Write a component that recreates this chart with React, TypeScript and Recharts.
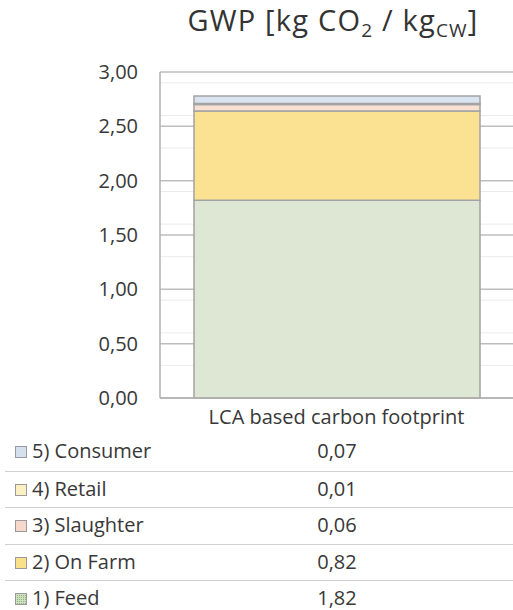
import type { JSX } from "react";
import { BarChart, Bar, XAxis, YAxis, CartesianGrid } from "recharts";

// ─── data ─────────────────────────────────────────────────────────────────────

const categories = ["LCA based carbon footprint"];
const stages = ["1) Feed", "2) On Farm", "3) Slaughter", "4) Retail", "5) Consumer"];
const stageKeys = ["feed", "farm", "slaughter", "retail", "consumer"];
const stageValues = [1.82, 0.82, 0.06, 0.01, 0.07];
const stageColors = ["#dde7d3", "#fbe292", "#f9e0d3", "#fdf1c9", "#dae3f0"];
const legendColors = ["#b9d3a9", "#fbe08a", "#f6d9cc", "#fcefc2", "#d5e0ef"];
const yTicks = [0, 0.5, 1, 1.5, 2, 2.5, 3];
const minorTicks = [
  0.1, 0.2, 0.3, 0.4, 0.6, 0.7, 0.8, 0.9, 1.1, 1.2, 1.3, 1.4, 1.6, 1.7, 1.8, 1.9,
  2.1, 2.2, 2.3, 2.4, 2.6, 2.7, 2.8, 2.9,
];

const FONT = "'Open Sans', Lato, sans-serif";
const TEXT = "#383838";

const fmt = (v: number) => v.toFixed(2).replace(".", ",");

const data = categories.map((name) => {
  const row: Record<string, string | number> = { name };
  stageKeys.forEach((k, i) => (row[k] = stageValues[i]));
  return row;
});

// ─── title ────────────────────────────────────────────────────────────────────

function Title(): JSX.Element {
  return (
    <svg width={513} height={48} style={{ position: "absolute", left: 0, top: 0 }}>
      <text x={333} y={31} textAnchor="middle" fontFamily={FONT} fontSize={29} letterSpacing={1.2} fill="#333">
        GWP [kg CO
        <tspan fontSize={19} dy={6}>2</tspan>
        <tspan dy={-6}> / kg</tspan>
        <tspan fontSize={19} dy={6}>CW</tspan>
        <tspan dy={-6}>]</tspan>
      </text>
    </svg>
  );
}

// ─── legend / data table ──────────────────────────────────────────────────────

function LegendKey({ color, dotted }: { color: string; dotted: boolean }): JSX.Element {
  return (
    <svg width={12} height={12} style={{ position: "absolute", left: 10, top: 12 }}>
      <defs>
        <pattern id="feedDots" width={2} height={2} patternUnits="userSpaceOnUse">
          <rect width={2} height={2} fill="#cfe0c3" />
          <rect width={1} height={1} fill="#8fb57a" />
        </pattern>
      </defs>
      <rect x={0.5} y={0.5} width={11} height={11} fill={dotted ? "url(#feedDots)" : color} stroke="#9a9a9a" />
    </svg>
  );
}

function DataTable(): JSX.Element {
  const rows = stages.map((s, i) => ({ s, i })).reverse();
  return (
    <div style={{ position: "absolute", left: 0, top: 434, width: 513 }}>
      {rows.map(({ s, i }, idx) => (
        <div
          key={s}
          style={{
            position: "relative",
            boxSizing: "border-box",
            height: 36.5,
            borderTop: idx > 0 ? "1px solid #d0d0d0" : "none",
            marginLeft: 5,
            fontFamily: FONT,
            fontSize: 20,
            lineHeight: "24px",
            color: TEXT,
          }}
        >
          <LegendKey color={legendColors[i]} dotted={i === 0} />
          <span style={{ position: "absolute", left: 27, top: 5 }}>{s}</span>
          <span style={{ position: "absolute", left: 332, top: 5, transform: "translateX(-50%)" }}>
            {fmt(stageValues[i])}
          </span>
        </div>
      ))}
    </div>
  );
}

// ─── chart ────────────────────────────────────────────────────────────────────

export default function App(): JSX.Element {
  return (
    <div style={{ position: "absolute", left: 0, top: 0, width: 513, height: 610, background: "#fff" }}>
      <Title />
      <div style={{ position: "absolute", left: 0, top: 0 }}>
        <BarChart width={513} height={432} data={data} margin={{ top: 72, right: 0, bottom: 0, left: 0 }}>
          <CartesianGrid vertical={false} horizontalValues={minorTicks} stroke="#ebebeb" strokeWidth={1} />
          <CartesianGrid vertical={false} horizontalValues={yTicks} stroke="#bdbdbd" strokeWidth={1.5} />
          <XAxis
            dataKey="name"
            height={34}
            tickSize={0}
            tickLine={false}
            tickMargin={12}
            axisLine={{ stroke: "#b0b0b0", strokeWidth: 1.5 }}
            tick={{ fontSize: 20, fill: TEXT, fontFamily: FONT }}
          />
          <YAxis
            width={160}
            domain={[0, 3]}
            ticks={yTicks}
            tickSize={0}
            tickLine={false}
            tickMargin={22}
            tickFormatter={fmt}
            axisLine={{ stroke: "#b0b0b0", strokeWidth: 1.5 }}
            tick={{ fontSize: 20, fill: TEXT, fontFamily: FONT }}
          />
          {stageKeys.map((k, i) => (
            <Bar
              key={k}
              dataKey={k}
              stackId="gwp"
              barSize={286}
              fill={stageColors[i]}
              stroke="#a3a3a3"
              strokeWidth={1.5}
              isAnimationActive={false}
            />
          ))}
        </BarChart>
      </div>
      <DataTable />
    </div>
  );
}
